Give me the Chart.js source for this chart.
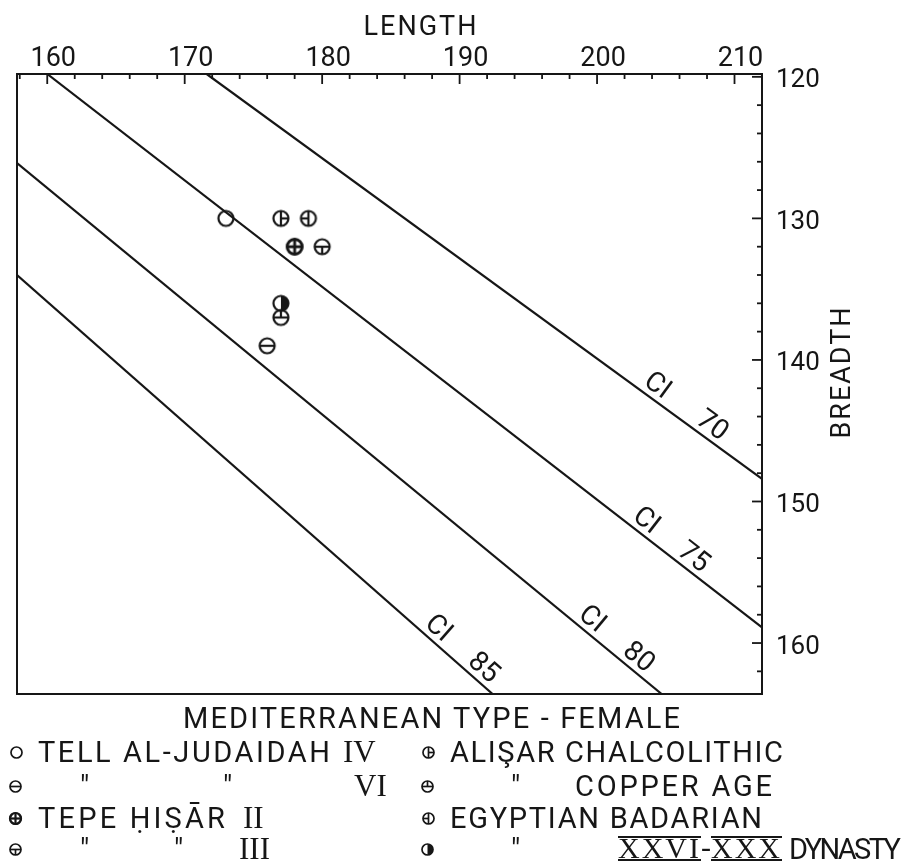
<!DOCTYPE html>
<html>
<head>
<meta charset="utf-8">
<script src="https://cdn.jsdelivr.net/npm/chart.js@4.4.1/dist/chart.umd.min.js"></script>
<style>
  html, body { margin: 0; padding: 0; background: #ffffff; }
  #wrap { position: relative; width: 913px; height: 862px; overflow: hidden; background: #fff; }
  #c { position: absolute; left: 0; top: 0; }
  .t { position: absolute; font-family: Roboto, 'DejaVu Sans', sans-serif; font-weight: 400;
       font-size: 29px; line-height: 1; color: #161616; white-space: pre; }
  .r { font-family: 'Liberation Serif', 'DejaVu Serif', serif; font-size: 31px; }
  .ou { display: inline-block; line-height: 20px; height: 20px; border-top: 2px solid #161616;
        border-bottom: 2px solid #161616; letter-spacing: 2px; padding: 0 0 1px 0; vertical-align: top; }
  .sym { position: absolute; }
</style>
</head>
<body>
<div id="wrap">
  <canvas id="c" width="913" height="862"></canvas>

  <div class="t" data-w="497" style="left:183px; top:704px;">MEDITERRANEAN TYPE - FEMALE</div>

  <canvas class="sym" data-s="open"  data-cx="16" data-cy="752"></canvas>
  <div class="t" data-w="292" style="left:38px; top:738px;">TELL AL-JUDAIDAH</div>
  <div class="t r" style="left:343px; top:736px;">IV</div>

  <canvas class="sym" data-s="hline" data-cx="15" data-cy="786"></canvas>
  <div class="t" style="left:80px; top:772px;">"</div>
  <div class="t" style="left:223px; top:772px;">"</div>
  <div class="t r" style="left:354px; top:770px;">VI</div>

  <canvas class="sym" data-s="cross" data-cx="15" data-cy="818"></canvas>
  <div class="t" data-w="187" style="left:38px; top:804px;">TEPE ḤIṢĀR</div>
  <div class="t r" style="left:243px; top:802px;">II</div>

  <canvas class="sym" data-s="hdown" data-cx="15" data-cy="849"></canvas>
  <div class="t" style="left:80px; top:835px;">"</div>
  <div class="t" style="left:174px; top:835px;">"</div>
  <div class="t r" style="left:239px; top:833px;">III</div>

  <canvas class="sym" data-s="vright" data-cx="428" data-cy="752"></canvas>
  <div class="t" data-w="333" style="left:450px; top:738px;">ALIŞAR CHALCOLITHIC</div>

  <canvas class="sym" data-s="hup" data-cx="427" data-cy="786"></canvas>
  <div class="t" style="left:511px; top:772px;">"</div>
  <div class="t" data-w="197" style="left:575px; top:772px;">COPPER AGE</div>

  <canvas class="sym" data-s="vleft" data-cx="428" data-cy="818"></canvas>
  <div class="t" data-w="312" style="left:450px; top:804px;">EGYPTIAN BADARIAN</div>

  <canvas class="sym" data-s="half" data-cx="427" data-cy="849"></canvas>
  <div class="t" style="left:511px; top:835px;">"</div>
  <div class="t r" style="left:618px; top:836px; line-height:22px; font-size:30px;"><span class="ou">XXVI</span>-<span class="ou">XXX</span></div>
  <div class="t" data-w="112" style="left:789px; top:835px;">DYNASTY</div>
</div>

<script>
// ---------------- DATA ----------------
const xTickLabels = [160, 170, 180, 190, 200, 210];   // LENGTH
const yTickLabels = [120, 130, 140, 150, 160];        // BREADTH

const seriesNames = [
  'TELL AL-JUDAIDAH IV', 'TELL AL-JUDAIDAH VI', 'TEPE ḤIṢĀR II', 'TEPE ḤIṢĀR III',
  'ALIŞAR CHALCOLITHIC', 'ALIŞAR COPPER AGE', 'EGYPTIAN BADARIAN', 'EGYPTIAN XXVI-XXX DYNASTY'
];
// one point (length, breadth) per series
const tellIV      = [{ x: 173, y: 130 }];
const tellVI      = [{ x: 176, y: 139 }];
const hisarII     = [{ x: 178, y: 132 }];
const hisarIII    = [{ x: 180, y: 132 }];
const alisarChalc = [{ x: 177, y: 130 }];
const alisarCopper= [{ x: 177, y: 137 }];
const egyBadarian = [{ x: 179, y: 130 }];
const egyDynasty  = [{ x: 177, y: 136 }];

// cephalic-index iso-lines, end points
const ciValues = [70, 75, 80, 85];
const ci70 = [{ x: 171.6, y: 119.8 }, { x: 212.0, y: 148.4 }];
const ci75 = [{ x: 160.0, y: 119.8 }, { x: 212.0, y: 158.9 }];
const ci80 = [{ x: 157.8, y: 126.1 }, { x: 204.7, y: 163.6 }];
const ci85 = [{ x: 157.8, y: 134.0 }, { x: 192.4, y: 163.6 }];

// ---------------- STYLE / LAYOUT ----------------
const INK = '#161616';
const FONT = 'Roboto, "DejaVu Sans", sans-serif';
const AXIS = { xMin: 157.8, xMax: 212.0, yMin: 119.8, yMax: 163.6, minorStep: 2 };
const CI_LABEL = { at: [205.8, 204.7, 200.7, 189.45], offset: 13, gap: [68, 60, 60, 60] };

function drawSymbol(ctx, kind, cx, cy, r, lw) {
  ctx.strokeStyle = INK; ctx.fillStyle = INK; ctx.lineWidth = lw;
  ctx.beginPath(); ctx.arc(cx, cy, r, 0, Math.PI * 2); ctx.stroke();
  const seg = (x1, y1, x2, y2) => { ctx.beginPath(); ctx.moveTo(x1, y1); ctx.lineTo(x2, y2); ctx.stroke(); };
  switch (kind) {
    case 'hline':  seg(cx - r, cy, cx + r, cy); break;
    case 'cross':  ctx.lineWidth = lw * 1.3; ctx.beginPath(); ctx.arc(cx, cy, r, 0, Math.PI * 2); ctx.stroke();
                   seg(cx - r, cy, cx + r, cy); seg(cx, cy - r, cx, cy + r); break;
    case 'hdown':  seg(cx - r, cy, cx + r, cy); seg(cx, cy, cx, cy + r); break;
    case 'hup':    seg(cx - r, cy, cx + r, cy); seg(cx, cy - r, cx, cy); break;
    case 'vright': seg(cx, cy - r, cx, cy + r); seg(cx, cy, cx + r, cy); break;
    case 'vleft':  seg(cx, cy - r, cx, cy + r); seg(cx - r, cy, cx, cy); break;
    case 'half':   ctx.beginPath(); ctx.arc(cx, cy, r, -Math.PI / 2, Math.PI / 2); ctx.closePath(); ctx.fill(); break;
  }
}
function makeSymbol(kind, r, lw) {
  const size = Math.ceil(2 * r + lw * 2 + 2);
  const cv = document.createElement('canvas');
  cv.width = size; cv.height = size;
  drawSymbol(cv.getContext('2d'), kind, size / 2, size / 2, r, lw);
  return cv;
}

const seriesData  = [tellIV, tellVI, hisarII, hisarIII, alisarChalc, alisarCopper, egyBadarian, egyDynasty];
const seriesStyle = ['open', 'hline', 'cross', 'hdown', 'vright', 'hup', 'vleft', 'half'];
const ciLines = [ci70, ci75, ci80, ci85];

// legend symbols (HTML)
document.querySelectorAll('canvas.sym').forEach(cv => {
  const r = 5.5, lw = 1.7;
  const size = Math.ceil(2 * r + lw * 2 + 2);
  cv.width = size; cv.height = size;
  cv.style.left = (+cv.dataset.cx - size / 2) + 'px';
  cv.style.top  = (+cv.dataset.cy - size / 2) + 'px';
  drawSymbol(cv.getContext('2d'), cv.dataset.s, size / 2, size / 2, r, lw);
});
// fit widths of legend texts
document.querySelectorAll('.t[data-w]').forEach(el => {
  el.style.letterSpacing = '0px';
  const w = el.getBoundingClientRect().width;
  const n = el.textContent.length;
  el.style.letterSpacing = ((+el.dataset.w - w) / Math.max(1, n - 1)) + 'px';
});

// ---------------- PLUGINS ----------------
const framePlugin = {
  id: 'frame',
  afterDatasetsDraw(chart) {
    const { ctx, chartArea: a, scales: { x, y } } = chart;
    ctx.save();
    ctx.strokeStyle = INK; ctx.lineWidth = 2;
    ctx.strokeRect(a.left, a.top, a.right - a.left, a.bottom - a.top);
    ctx.lineWidth = 1.8;
    const first = Math.ceil(AXIS.xMin / AXIS.minorStep) * AXIS.minorStep;
    for (let v = first; v < AXIS.xMax; v += AXIS.minorStep) {
      const px = x.getPixelForValue(v);
      const len = (v % 10 === 0) ? 10 : 5;
      ctx.beginPath(); ctx.moveTo(px, a.top); ctx.lineTo(px, a.top + len); ctx.stroke();
    }
    const firstY = Math.ceil(AXIS.yMin / AXIS.minorStep) * AXIS.minorStep;
    for (let v = firstY; v < AXIS.yMax; v += AXIS.minorStep) {
      const py = y.getPixelForValue(v);
      const len = (v % 10 === 0) ? 10 : 5;
      ctx.beginPath(); ctx.moveTo(a.right, py); ctx.lineTo(a.right - len, py); ctx.stroke();
    }
    ctx.restore();
  }
};

const titlePlugin = {
  id: 'axisTitles',
  afterDraw(chart) {
    const { ctx, chartArea: a } = chart;
    ctx.save();
    ctx.fillStyle = INK;
    ctx.font = '400 27px ' + FONT;
    ctx.textAlign = 'center'; ctx.textBaseline = 'middle';
    ctx.letterSpacing = '2px';
    ctx.fillText('LENGTH', a.left + 404, 28);
    ctx.translate(a.right + 81, a.top + 298);
    ctx.rotate(-Math.PI / 2);
    ctx.fillText('BREADTH', 0, 0);
    ctx.restore();
  }
};

const ciLabelPlugin = {
  id: 'ciLabels',
  afterDatasetsDraw(chart) {
    const { ctx, scales: { x, y } } = chart;
    ctx.save();
    ctx.fillStyle = INK;
    ctx.font = '400 28px ' + FONT;
    ctx.textAlign = 'center'; ctx.textBaseline = 'middle';
    ciLines.forEach((ln, i) => {
      const x0 = x.getPixelForValue(ln[0].x), y0 = y.getPixelForValue(ln[0].y);
      const x1 = x.getPixelForValue(ln[1].x), y1 = y.getPixelForValue(ln[1].y);
      const ang = Math.atan2(y1 - y0, x1 - x0);
      const px = x.getPixelForValue(CI_LABEL.at[i]);
      const py = y0 + (px - x0) / (x1 - x0) * (y1 - y0);
      const cx = px + Math.sin(ang) * CI_LABEL.offset;
      const cy = py - Math.cos(ang) * CI_LABEL.offset;
      const g = CI_LABEL.gap[i];
      ctx.save();
      ctx.translate(cx, cy); ctx.rotate(ang);
      ctx.fillText('CI', -g / 2, 0);
      ctx.fillText(String(ciValues[i]), g / 2, 0);
      ctx.restore();
    });
    ctx.restore();
  }
};

// ---------------- CHART ----------------
const datasets = [];
seriesData.forEach((d, i) => {
  const img = makeSymbol(seriesStyle[i], 7.5, 2.2);
  datasets.push({ type: 'scatter', label: seriesNames[i], data: d, pointStyle: img,
                  pointRadius: 8, pointHoverRadius: 8 });
});
ciLines.forEach((d, i) => {
  datasets.push({ type: 'line', label: 'CI ' + ciValues[i], data: d, borderColor: INK,
                  borderWidth: 2.2, pointRadius: 0, fill: false, tension: 0 });
});

new Chart(document.getElementById('c'), {
  type: 'scatter',
  data: { datasets },
  options: {
    responsive: false, animation: false, events: [],
    layout: { padding: { left: 17, right: 0, top: 0, bottom: 168 } },
    plugins: { legend: { display: false }, tooltip: { enabled: false } },
    scales: {
      x: {
        type: 'linear', position: 'top', min: AXIS.xMin, max: AXIS.xMax,
        afterBuildTicks: s => { s.ticks = xTickLabels.map(v => ({ value: v })); },
        afterFit: s => { s.height = 74; },
        grid: { display: false }, border: { display: false },
        ticks: { color: INK, padding: -9, labelOffset: 6, font: { family: FONT, size: 27, weight: 400 } }
      },
      y: {
        type: 'linear', position: 'right', reverse: true, min: AXIS.yMin, max: AXIS.yMax,
        afterBuildTicks: s => { s.ticks = yTickLabels.map(v => ({ value: v })); },
        afterFit: s => { s.width = 151; },
        grid: { display: false }, border: { display: false },
        ticks: { color: INK, padding: 6, labelOffset: 4, font: { family: FONT, size: 26, weight: 400 } }
      }
    }
  },
  plugins: [framePlugin, ciLabelPlugin, titlePlugin]
});
</script>
</body>
</html>
